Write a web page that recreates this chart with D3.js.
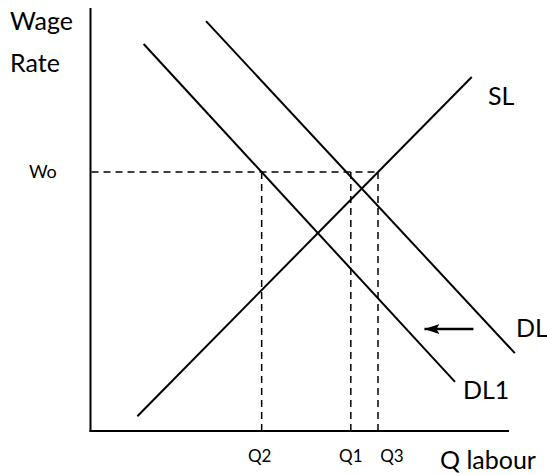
<!DOCTYPE html>
<html>
<head>
<meta charset="utf-8">
<script src="https://cdn.jsdelivr.net/npm/d3@7"></script>
<style>
  html, body { margin: 0; padding: 0; background: #fff; }
  svg { display: block; }
  text { font-family: Lato, "Open Sans", sans-serif; fill: #000; }
</style>
</head>
<body>
<svg id="chart" width="547" height="475"></svg>
<script>
// ---- data (arbitrary units: quantity 0..100, wage 0..100) ----
const curveNames = ["SL", "DL1", "DL"];
const curveStart = [[11.2, 3.5], [12.7, 91.5], [27.6, 96.9]];
const curveEnd   = [[91.1, 83.7], [87.1, 11.6], [101.4, 18.4]];
const wageLabel = "Wo";
const wageLevel = 61.2;
const qLabels = ["Q2", "Q1", "Q3"];
const qValues = [40.9, 62.2, 68.7];
const shiftArrowFrom = [91.5, 24.1];
const shiftArrowTo   = [79.8, 24.1];
const axisTitleY = ["Wage", "Rate"];
const axisTitleX = "Q labour";

const svg = d3.select("#chart");
const x = d3.scaleLinear().domain([0, 100]).range([90.5, 509]);
const y = d3.scaleLinear().domain([0, 100]).range([431, 8]);

// marker for arrow
svg.append("defs").append("marker")
  .attr("id", "ah").attr("viewBox", "0 0 15 10")
  .attr("refX", 15).attr("refY", 5)
  .attr("markerUnits", "userSpaceOnUse")
  .attr("markerWidth", 15).attr("markerHeight", 10)
  .attr("orient", "auto")
  .append("path").attr("d", "M0,0 L15,5 L0,10 L3,5 Z").attr("fill", "#000");

// axes
svg.append("line")
  .attr("x1", x(0)).attr("y1", y(100)).attr("x2", x(0)).attr("y2", y(0) + 1)
  .attr("stroke", "#000").attr("stroke-width", 2);
svg.append("line")
  .attr("x1", x(0) - 1).attr("y1", y(0)).attr("x2", x(100)).attr("y2", y(0))
  .attr("stroke", "#000").attr("stroke-width", 2);

// dashed wage line
svg.append("line")
  .attr("x1", x(0) + 1).attr("y1", y(wageLevel))
  .attr("x2", x(d3.max(qValues))).attr("y2", y(wageLevel))
  .attr("stroke", "#000").attr("stroke-width", 1.5)
  .attr("stroke-dasharray", "7,5");

// dashed quantity drops
svg.selectAll("line.q").data(qValues).join("line")
  .attr("class", "q")
  .attr("x1", d => x(d)).attr("y1", y(wageLevel))
  .attr("x2", d => x(d)).attr("y2", y(0))
  .attr("stroke", "#000").attr("stroke-width", 1.5)
  .attr("stroke-dasharray", "7,5");

// curves
svg.selectAll("line.curve").data(curveNames).join("line")
  .attr("class", "curve")
  .attr("x1", (d, i) => x(curveStart[i][0])).attr("y1", (d, i) => y(curveStart[i][1]))
  .attr("x2", (d, i) => x(curveEnd[i][0])).attr("y2", (d, i) => y(curveEnd[i][1]))
  .attr("stroke", "#000").attr("stroke-width", 2);

// shift arrow
svg.append("line")
  .attr("x1", x(shiftArrowFrom[0])).attr("y1", y(shiftArrowFrom[1]))
  .attr("x2", x(shiftArrowTo[0])).attr("y2", y(shiftArrowTo[1]))
  .attr("stroke", "#000").attr("stroke-width", 2.5)
  .attr("marker-end", "url(#ah)");

// curve labels
const curveLabelPos = {SL: [488, 105], DL1: [463, 399], DL: [516, 337]};
svg.selectAll("text.cl").data(curveNames).join("text")
  .attr("class", "cl")
  .attr("x", d => curveLabelPos[d][0]).attr("y", d => curveLabelPos[d][1])
  .attr("font-size", 25)
  .text(d => d);

// axis titles
svg.selectAll("text.yt").data(axisTitleY).join("text")
  .attr("class", "yt")
  .attr("x", 10).attr("y", (d, i) => 30 + i * 42)
  .attr("font-size", 25)
  .text(d => d);
svg.append("text").attr("x", 440).attr("y", 469)
  .attr("font-size", 25).text(axisTitleX);

// wage label
svg.append("text").attr("x", 29).attr("y", y(wageLevel) + 6)
  .attr("font-size", 18).text(wageLabel);

// quantity labels
const qOffset = [-2, 0, 14];
svg.selectAll("text.ql").data(qLabels).join("text")
  .attr("class", "ql")
  .attr("x", (d, i) => x(qValues[i]) + qOffset[i])
  .attr("y", 462)
  .attr("text-anchor", "middle")
  .attr("font-size", 17)
  .text(d => d);
</script>
</body>
</html>
